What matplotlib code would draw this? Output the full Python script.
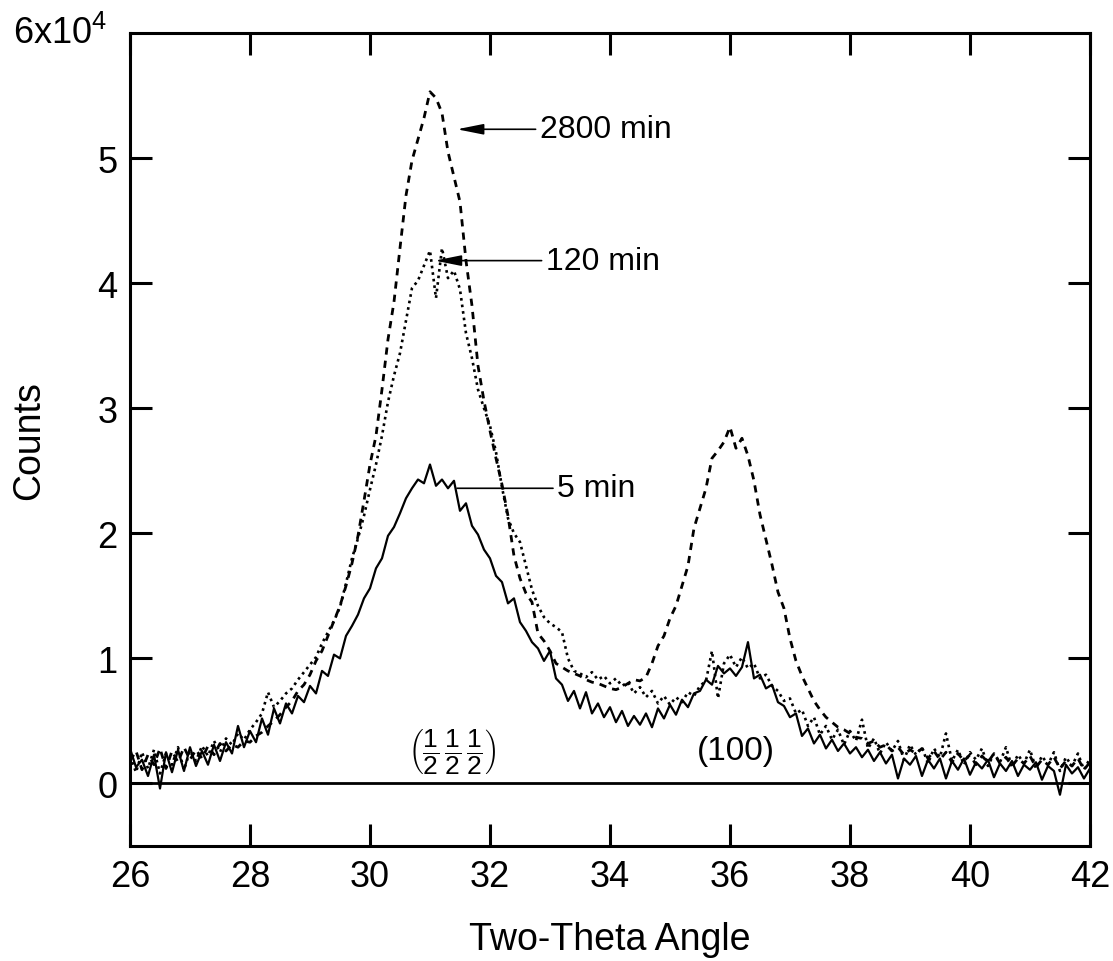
import numpy as np
import matplotlib
matplotlib.use("Agg")
import matplotlib.pyplot as plt

plt.rcParams['font.family'] = ['Liberation Sans', 'DejaVu Sans']
plt.rcParams['mathtext.fontset'] = 'custom'
plt.rcParams['mathtext.rm'] = 'Liberation Sans'
plt.rcParams['mathtext.it'] = 'Liberation Sans:italic'

# Two-theta grid, 26.0 ... 42.0 in steps of 0.1
two_theta = np.arange(260, 421) / 10.0

# Counts in thousands
counts_5min = [
    2.8, 1.3, 1.9, 0.6, 2.3, -0.4, 2.5, 0.9, 2.7, 1.0,
    2.9, 1.4, 2.6, 1.5, 3.1, 1.8, 3.3, 2.4, 4.6, 2.9,
    4.2, 3.3, 5.2, 3.9, 6.0, 4.8, 6.4, 5.6, 7.0, 6.5,
    7.8, 7.2, 9.0, 8.6, 10.3, 10.0, 11.8, 12.6, 13.5, 14.8,
    15.6, 17.2, 18.0, 19.8, 20.5, 21.6, 22.8, 23.6, 24.3, 24.0,
    25.5, 23.8, 24.3, 23.6, 24.2, 21.8, 22.4, 20.6, 19.9, 18.7,
    18.0, 16.6, 16.1, 14.4, 14.8, 12.9, 12.2, 11.3, 10.8, 9.8,
    10.6, 8.4, 7.9, 6.6, 7.4, 6.0, 7.3, 5.6, 6.4, 5.3,
    6.1, 4.9, 5.8, 4.6, 5.4, 4.7, 5.6, 4.5, 6.0, 5.2,
    6.3, 5.5, 6.7, 6.1, 7.2, 7.4, 8.3, 7.9, 9.4, 8.8,
    9.2, 8.6, 9.3, 11.3, 8.4, 8.7, 7.6, 7.9, 6.5, 6.2,
    5.3, 5.6, 3.8, 4.4, 3.2, 3.9, 2.8, 3.5, 2.6, 3.2,
    2.4, 2.9, 2.1, 2.7, 1.8, 2.5, 1.6, 2.3, 0.4, 2.0,
    1.5, 2.2, 0.6, 1.9, 1.2, 2.0, 0.4, 1.8, 1.1, 2.0,
    0.7, 1.7, 1.2, 1.9, 0.5, 1.6, 1.0, 1.8, 0.6, 1.5,
    1.1, 1.7, 0.3, 1.4, 1.0, -0.9, 1.5, 0.8, 1.3, 0.4,
    1.2,
]

counts_120min = [
    2.2, 0.9, 2.5, 1.2, 2.7, 0.8, 2.4, 1.5, 2.9, 1.1,
    2.6, 1.8, 3.0, 2.2, 3.4, 2.5, 3.6, 3.1, 4.0, 3.5,
    4.3, 4.9, 5.6, 7.3, 6.1, 6.6, 7.2, 7.6, 8.3, 8.9,
    9.5, 10.1, 11.2, 12.1, 13.0, 14.1, 16.0, 18.0, 19.6, 21.4,
    23.5, 25.5, 27.8, 30.5, 32.6, 34.4, 37.0, 39.6, 40.2, 41.4,
    42.6, 38.8, 42.8, 40.4, 41.0, 39.5, 36.0, 34.0, 31.5, 30.0,
    28.6, 26.5, 23.7, 21.2, 20.0, 19.3, 17.4, 15.5, 14.2, 13.3,
    12.8, 12.5, 12.1, 10.0, 9.0, 8.8, 8.5, 8.9, 8.3, 8.6,
    8.0, 8.4, 7.8, 8.1, 7.2, 7.7, 6.9, 7.4, 6.4, 7.0,
    6.3, 6.9, 6.5, 7.3, 7.0, 7.8, 8.2, 10.6, 6.8, 9.6,
    10.3, 9.3, 10.1, 9.2, 9.6, 8.4, 8.7, 7.8, 7.4, 6.6,
    6.8, 5.6, 5.9, 4.6, 5.3, 3.9, 4.6, 3.5, 4.3, 3.1,
    4.2, 3.4, 5.1, 2.8, 3.6, 2.4, 3.3, 2.6, 3.4, 1.9,
    3.1, 2.3, 2.9, 1.6, 2.8, 2.1, 4.0, 1.8, 2.7, 1.5,
    2.5, 1.9, 2.8, 1.4, 2.4, 1.7, 2.9, 1.3, 2.3, 1.6,
    2.7, 1.2, 2.2, 1.5, 2.5, 1.0, 2.1, 1.4, 2.4, 1.1,
    2.0,
]

counts_2800min = [
    1.8, 2.6, 1.1, 2.3, 1.5, 2.8, 1.2, 2.6, 1.7, 2.9,
    1.9, 2.7, 2.0, 3.0, 2.3, 3.2, 2.6, 3.1, 2.9, 3.4,
    3.3, 3.8, 4.1, 4.6, 5.0, 5.5, 6.1, 6.6, 7.4, 7.9,
    8.7, 9.8, 10.6, 11.8, 13.0, 14.2, 15.8, 17.6, 19.8, 22.6,
    25.5, 27.8, 31.5, 35.5, 38.5, 42.8, 47.0, 49.8, 51.5, 53.2,
    55.3, 54.8, 53.6, 50.5, 48.5, 46.5, 41.8, 38.2, 33.4, 30.6,
    28.2, 26.0, 23.9, 21.4, 18.2, 16.4, 15.2, 14.5, 12.0, 11.4,
    10.6, 9.6, 9.3, 9.0, 8.8, 8.6, 8.3, 8.1, 8.0, 7.8,
    7.6, 7.5, 7.7, 8.0, 8.3, 8.2, 8.5, 9.6, 11.0, 11.8,
    13.2, 14.2, 15.8, 17.4, 20.4, 22.0, 23.6, 26.0, 26.6, 27.3,
    28.5, 26.8, 27.6, 26.2, 24.2, 21.5, 19.5, 17.5, 15.3, 14.0,
    11.6, 9.8, 8.6, 7.6, 6.6, 5.9, 5.3, 4.9, 4.5, 4.3,
    4.0, 3.7, 3.6, 3.2, 3.4, 2.9, 3.1, 2.6, 2.9, 2.3,
    2.7, 2.4, 2.8, 2.0, 2.6, 1.9, 2.5, 1.7, 2.4, 1.8,
    2.3, 1.5, 2.2, 1.7, 2.4, 1.6, 2.1, 1.4, 2.0, 1.6,
    2.2, 1.3, 1.9, 1.5, 2.1, 1.2, 1.8, 1.4, 2.0, 1.1,
    1.7,
]

x_ticks = [26, 28, 30, 32, 34, 36, 38, 40, 42]
y_ticks = [0, 10, 20, 30, 40, 50]
y_tick_labels = ['0', '1', '2', '3', '4', '5']

fig = plt.figure(figsize=(11.13, 9.62), dpi=100)
ax = fig.add_axes([0.1168, 0.1195, 0.8625, 0.8452])

ax.plot(two_theta, counts_5min, color='black', lw=1.6, ls='-')
ax.plot(two_theta, counts_120min, color='black', lw=1.9, ls=(0, (1, 1.5)))
ax.plot(two_theta, counts_2800min, color='black', lw=2.0, ls=(0, (2.6, 2.2)))
ax.axhline(0, color='black', lw=2.0)

ax.set_xlim(26, 42)
ax.set_ylim(-5, 60)
ax.set_xticks(x_ticks)
ax.set_xticklabels([str(t) for t in x_ticks])
ax.set_yticks(y_ticks)
ax.set_yticklabels(y_tick_labels)

for s in ax.spines.values():
    s.set_linewidth(2.2)

ax.tick_params(axis='both', direction='in', length=16, width=2.2,
               labelsize=26, top=True, right=True)
ax.tick_params(axis='x', pad=9)
ax.tick_params(axis='y', pad=9)

ax.text(-0.024, 1.0, r'6x10$^{4}$', transform=ax.transAxes, ha='right',
        va='center', fontsize=26)

ax.set_xlabel('Two-Theta Angle', fontsize=27, labelpad=20)
ax.set_ylabel('Counts', fontsize=27, labelpad=36)

arrow = dict(arrowstyle='-|>,head_length=0.7,head_width=0.14', color='black',
             lw=1.2, shrinkA=1, shrinkB=0)
ax.annotate('2800 min', xy=(31.45, 52.3), xytext=(32.83, 52.3), ha='left',
            va='center', fontsize=23, arrowprops=arrow)
ax.annotate('120 min', xy=(31.08, 41.8), xytext=(32.93, 41.8), ha='left',
            va='center', fontsize=23, arrowprops=arrow)
ax.annotate('5 min', xy=(31.45, 23.6), xytext=(33.12, 23.6), ha='left',
            va='center', fontsize=23,
            arrowprops=dict(arrowstyle='-', color='black', lw=1.2,
                            shrinkA=1, shrinkB=0))

ax.text(31.37, 2.6, r'$\left(\dfrac{1}{2}\,\dfrac{1}{2}\,\dfrac{1}{2}\right)$',
        ha='center', va='center', fontsize=19)
ax.text(36.1, 2.6, '(100)', ha='center', va='center', fontsize=24)

fig.savefig('out.png', dpi=100)
